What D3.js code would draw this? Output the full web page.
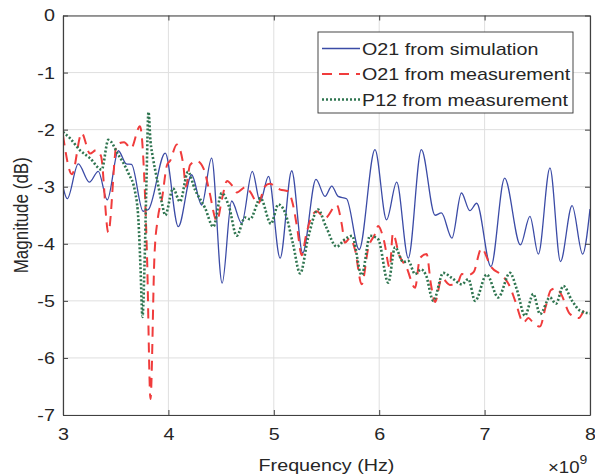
<!DOCTYPE html>
<html>
<head>
<meta charset="utf-8">
<script src="https://cdn.jsdelivr.net/npm/d3@7"></script>
<style>
body { margin: 0; background: #fff; }
svg text { font-family: "Liberation Sans", Arial, sans-serif; fill: #262626; }
</style>
</head>
<body>
<svg id="chart" width="595" height="476"></svg>
<script>
// frequency in GHz (axis is labelled x10^9 Hz), magnitude in dB
let simFreq = [3.00,3.04,3.145,3.25,3.335,3.42,3.525,3.60,3.65,3.76,3.81,3.97,4.094,4.22,4.316,4.41,4.51,4.60,4.695,4.796,4.87,4.95,5.06,5.17,5.274,5.40,5.486,5.55,5.61,5.69,5.81,5.96,6.07,6.166,6.276,6.40,6.53,6.59,6.69,6.78,6.86,6.925,7.06,7.19,7.34,7.43,7.51,7.62,7.72,7.83,7.93,8.00]
let simMag = [-3.00,-3.21,-2.60,-2.92,-2.73,-3.23,-2.37,-2.60,-2.61,-3.43,-3.40,-2.41,-3.70,-2.79,-3.32,-2.50,-4.69,-3.25,-3.64,-2.73,-3.26,-2.82,-4.25,-2.72,-4.16,-2.87,-3.17,-2.99,-3.17,-3.21,-4.10,-2.35,-3.58,-2.92,-4.25,-2.35,-3.50,-3.46,-3.90,-3.11,-3.42,-3.29,-4.40,-2.85,-4.02,-3.52,-4.18,-2.67,-4.31,-3.33,-4.18,-3.39]

let measFreq = [3.000,3.085,3.177,3.256,3.313,3.36,3.43,3.51,3.58,3.645,3.73,3.77,3.797,3.83,3.868,3.90,3.94,3.987,4.015,4.08,4.14,4.167,4.205,4.27,4.338,4.385,4.46,4.51,4.556,4.613,4.65,4.736,4.78,4.85,4.915,4.96,5.06,5.135,5.18,5.22,5.265,5.306,5.343,5.407,5.486,5.597,5.645,5.675,5.723,5.77,5.834,5.897,5.96,5.99,6.046,6.10,6.13,6.19,6.26,6.34,6.387,6.45,6.49,6.53,6.593,6.67,6.74,6.785,6.84,6.895,6.97,7.06,7.18,7.24,7.29,7.37,7.415,7.46,7.525,7.58,7.63,7.675,7.725,7.81,7.895,7.95,8.00]
let measMag = [-2.10,-2.78,-2.06,-2.42,-2.36,-2.46,-3.80,-2.26,-2.22,-2.33,-1.94,-2.8,-4.2,-6.72,-4.2,-3.55,-3.2,-2.62,-2.55,-2.26,-2.6,-3.0,-2.62,-2.55,-2.7,-3.05,-3.6,-3.2,-2.9,-3.0,-3.1,-3.0,-3.1,-3.3,-3.0,-2.95,-3.05,-3.08,-3.3,-3.7,-4.2,-3.85,-3.6,-3.43,-3.55,-3.32,-3.66,-3.98,-3.9,-4.1,-4.71,-4.07,-3.83,-3.69,-3.95,-4.42,-3.82,-4.2,-4.42,-4.77,-4.25,-4.18,-4.7,-5.02,-4.6,-4.72,-4.7,-4.53,-4.55,-4.5,-4.08,-4.4,-4.58,-4.75,-5.0,-5.38,-5.3,-5.38,-5.45,-5.1,-4.81,-4.78,-4.88,-5.23,-5.3,-5.17,-5.2]

let p12Freq = [3.00,3.066,3.16,3.256,3.367,3.43,3.525,3.62,3.683,3.716,3.735,3.754,3.773,3.792,3.811,3.83,3.854,3.89,3.94,3.97,4.044,4.11,4.186,4.252,4.347,4.426,4.506,4.575,4.648,4.727,4.774,4.874,4.973,5.043,5.106,5.182,5.25,5.325,5.42,5.495,5.597,5.675,5.742,5.834,5.913,5.99,6.086,6.15,6.229,6.276,6.34,6.397,6.444,6.513,6.608,6.69,6.783,6.846,6.91,7.02,7.13,7.24,7.306,7.383,7.462,7.526,7.62,7.677,7.747,7.83,7.905,8.00]
let p12Mag = [-2.04,-2.15,-2.36,-2.5,-2.70,-2.18,-2.44,-2.76,-3.08,-3.6,-4.4,-5.28,-4.4,-2.9,-1.69,-2.2,-2.5,-2.85,-3.3,-3.5,-3.03,-3.26,-2.74,-3.05,-3.37,-3.70,-3.11,-3.35,-3.86,-3.54,-3.57,-3.2,-3.65,-3.31,-3.45,-4.0,-4.52,-3.9,-3.40,-3.7,-4.05,-3.92,-3.86,-4.55,-3.86,-3.92,-4.68,-4.06,-4.32,-4.30,-4.53,-4.45,-4.55,-5.0,-4.51,-4.6,-4.71,-4.62,-5.0,-4.54,-4.94,-4.51,-4.8,-5.26,-4.88,-5.23,-4.94,-5.05,-4.74,-5.0,-5.17,-5.22]

let seriesNames = ['O21 from simulation', 'O21 from measurement', 'P12 from measurement']
let xTicks = [3, 4, 5, 6, 7, 8]
let yTicks = [0, -1, -2, -3, -4, -5, -6, -7]

let svg = d3.select('#chart')
let margin = {left: 63, right: 5, top: 15.5, bottom: 61}
let W = 595, H = 476
let stretch = 1.16 // the picture's text is a little wide

let x = d3.scaleLinear().domain([3, 8]).range([margin.left, W - margin.right])
let y = d3.scaleLinear().domain([-7, 0]).range([H - margin.bottom, margin.top])

// grid
svg.append('g').selectAll('line').data(xTicks).enter().append('line')
    .attr('x1', d => x(d)).attr('x2', d => x(d))
    .attr('y1', y(-7)).attr('y2', y(0))
    .attr('stroke', '#dfdfdf').attr('stroke-width', 1)
svg.append('g').selectAll('line').data(yTicks).enter().append('line')
    .attr('x1', x(3)).attr('x2', x(8))
    .attr('y1', d => y(d)).attr('y2', d => y(d))
    .attr('stroke', '#dfdfdf').attr('stroke-width', 1)

svg.append('clipPath').attr('id', 'clip').append('rect')
    .attr('x', x(3)).attr('y', y(0)).attr('width', x(8) - x(3)).attr('height', y(-7) - y(0))

let line = d3.line().x(d => x(d[0])).y(d => y(d[1])).curve(d3.curveMonotoneX)

let series = [
    {f: simFreq, m: simMag, color: '#3b4ba6', width: 1.3, dash: null},
    {f: measFreq, m: measMag, color: '#f03c3c', width: 2, dash: '10,7'},
    {f: p12Freq, m: p12Mag, color: '#2f7550', width: 2.6, dash: '2,2'}
]

let plot = svg.append('g').attr('clip-path', 'url(#clip)')
series.forEach(s => {
    plot.append('path')
        .attr('d', line(d3.zip(s.f, s.m)))
        .attr('fill', 'none')
        .attr('stroke', s.color)
        .attr('stroke-width', s.width)
        .attr('stroke-dasharray', s.dash)
})

// axes, ticks point inwards on all four sides
let axisColor = '#404040'
let gx = svg.append('g').attr('transform', `translate(0,${y(-7)})`)
    .call(d3.axisBottom(x).tickValues(xTicks).tickFormat(d3.format('d')).tickSizeInner(-5).tickSizeOuter(0).tickPadding(13))
let gy = svg.append('g').attr('transform', `translate(${x(3)},0)`)
    .call(d3.axisLeft(y).tickValues(yTicks).tickFormat(d => d === 0 ? '0' : '-' + Math.abs(d)).tickSizeInner(-5).tickSizeOuter(0).tickPadding(7))
let gt = svg.append('g').attr('transform', `translate(0,${y(0)})`)
    .call(d3.axisTop(x).tickValues(xTicks).tickFormat('').tickSizeInner(-5).tickSizeOuter(0))
let gr = svg.append('g').attr('transform', `translate(${x(8)},0)`)
    .call(d3.axisRight(y).tickValues(yTicks).tickFormat('').tickSizeInner(-5).tickSizeOuter(0))

;[gx, gy, gt, gr].forEach(g => {
    g.select('.domain').attr('stroke', axisColor).attr('stroke-width', 1.2)
    g.selectAll('.tick line').attr('stroke', axisColor)
    g.selectAll('text').attr('font-size', 17).attr('fill', '#262626')
        .attr('font-family', '"Liberation Sans", Arial, sans-serif')
})
gx.selectAll('text').attr('transform', `scale(${stretch},1)`)
gy.selectAll('text').attr('transform', `scale(${stretch},1)`)

// axis titles
svg.append('text')
    .attr('transform', `translate(${(x(3) + x(8)) / 2},471) scale(${stretch},1)`)
    .attr('text-anchor', 'middle').attr('font-size', 17)
    .text('Frequency (Hz)')
svg.append('text')
    .attr('transform', `translate(28,${(y(0) + y(-7)) / 2}) scale(${stretch},1) rotate(-90)`)
    .attr('text-anchor', 'middle').attr('font-size', 17)
    .text('Magnitude (dB)')
let expo = svg.append('text')
    .attr('transform', `translate(548,473) scale(${stretch},1)`)
    .attr('font-size', 16)
expo.append('tspan').text('\u00d710')
expo.append('tspan').attr('dy', -9).attr('font-size', 12).text('9')

// legend
let legend = svg.append('g')
legend.append('rect')
    .attr('x', 318).attr('y', 32).attr('width', 255).attr('height', 81)
    .attr('fill', '#fff').attr('stroke', '#333').attr('stroke-width', 0.9)
seriesNames.forEach((name, i) => {
    let yy = 48.5 + i * 25.5
    legend.append('line')
        .attr('x1', 322).attr('x2', 360).attr('y1', yy).attr('y2', yy)
        .attr('stroke', series[i].color).attr('stroke-width', series[i].width)
        .attr('stroke-dasharray', series[i].dash)
    legend.append('text')
        .attr('transform', `translate(362,${yy + 6}) scale(${stretch},1)`)
        .attr('font-size', 17)
        .text(name)
})
</script>
</body>
</html>
